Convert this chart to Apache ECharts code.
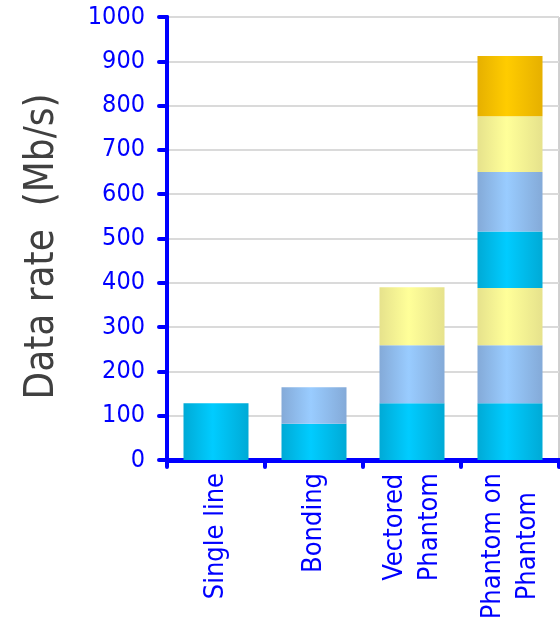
<!DOCTYPE html>
<html>
<head>
<meta charset="utf-8">
<script src="https://cdn.jsdelivr.net/npm/echarts@6/dist/echarts.min.js"></script>
<style>
  html, body { margin: 0; padding: 0; background: #ffffff; }
  #chart { width: 560px; height: 624px; }
</style>
</head>
<body>
<div id="chart"></div>
<script>
// Categories (line breaks are part of the label text)
var categories = ['Single line', 'Bonding', 'Vectored\nPhantom', 'Phantom on\nPhantom'];

// Stacked segment values in Mb/s, bottom to top
var layer1 = [128, 82, 128, 128];
var layer2 = [null, 82, 131, 131];
var layer3 = [null, null, 131, 129];
var layer4 = [null, null, null, 128];
var layer5 = [null, null, null, 134];
var layer6 = [null, null, null, 126];
var layer7 = [null, null, null, 136];

var yTicks = { min: 0, max: 1000, step: 100 };
var axisTitle = 'Data rate  (Mb/s)';

// Cylinder-like horizontal shading for each fill colour
function shade(edge, mid) {
  return new echarts.graphic.LinearGradient(0, 0, 1, 0, [
    { offset: 0, color: edge },
    { offset: 0.45, color: mid },
    { offset: 1, color: edge }
  ]);
}
var cyan = shade('#00AAD6', '#00CCFF');
var blue = shade('#84AAD8', '#99CCFF');
var yellow = shade('#E6E28C', '#FFFF99');
var gold = shade('#E6B000', '#FFCC00');

var layers = [
  [layer1, cyan], [layer2, blue], [layer3, yellow],
  [layer4, cyan], [layer5, blue], [layer6, yellow], [layer7, gold]
];

var series = layers.map(function (l, i) {
  return {
    name: 'L' + (i + 1),
    type: 'bar',
    stack: 'total',
    barWidth: 65,
    data: l[0],
    itemStyle: { color: l[1] },
    emphasis: { disabled: true }
  };
});

var chart = echarts.init(document.getElementById('chart'), null, { renderer: 'canvas' });
chart.setOption({
  animation: false,
  backgroundColor: '#ffffff',
  grid: {
    left: 167, top: 17, right: 1, bottom: 164,
    show: true, borderColor: '#a0a0a0', borderWidth: 1, backgroundColor: '#ffffff'
  },
  xAxis: {
    type: 'category',
    data: categories,
    axisLine: { lineStyle: { color: '#0000FF', width: 5, cap: 'round' } },
    axisTick: { show: true, length: 7, lineStyle: { color: '#0000FF', width: 4, cap: 'round' } },
    axisLabel: {
      interval: 0,
      rotate: 90,
      margin: 13,
      formatter: function (v) {
        return v.split('\n').map(function (s) { return '{c|' + s + '}'; }).join('\n');
      },
      rich: {
        c: {
          align: 'center',
          color: '#0000FF',
          fontFamily: 'DejaVu Sans Condensed',
          fontSize: 27,
          lineHeight: 35
        }
      }
    },
    splitLine: { show: false }
  },
  yAxis: {
    type: 'value',
    min: yTicks.min,
    max: yTicks.max,
    interval: yTicks.step,
    name: axisTitle,
    nameLocation: 'middle',
    nameGap: 104,
    nameTextStyle: {
      color: '#404040',
      fontFamily: 'DejaVu Sans Condensed',
      fontSize: 40,
      padding: [0, 16, 0, 0]
    },
    axisLine: { show: true, lineStyle: { color: '#0000FF', width: 4, cap: 'round' } },
    axisTick: { show: true, length: 8, lineStyle: { color: '#0000FF', width: 4, cap: 'round' } },
    axisLabel: {
      color: '#0000FF',
      fontFamily: 'DejaVu Sans Condensed',
      fontSize: 25,
      margin: 22,
      formatter: function (v) { return String(v); }
    },
    splitLine: { show: true, lineStyle: { color: '#dadada', width: 2 } }
  },
  series: series
});
</script>
</body>
</html>
